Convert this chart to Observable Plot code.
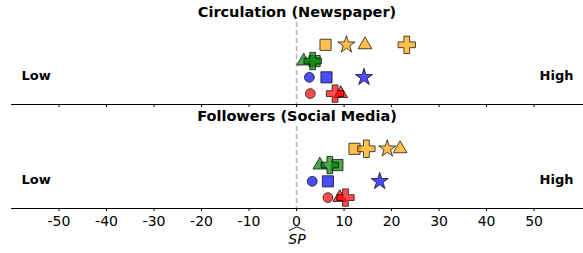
<!DOCTYPE html>
<html>
<head>
<meta charset="utf-8">
<script src="https://cdn.jsdelivr.net/npm/d3@7"></script>
<script src="https://cdn.jsdelivr.net/npm/@observablehq/plot@0.6"></script>
<style>
  html, body { margin: 0; padding: 0; background: white; }
  body { width: 583px; height: 253px; overflow: hidden; font-family: "DejaVu Sans", sans-serif; }
  .title { font-weight: bold; font-size: 14.5px; text-align: center; padding-left: 11px; color: black; white-space: nowrap; }
  svg { display: block; }
</style>
</head>
<body>
<div id="t1" class="title" style="height:22px; line-height:25px;"></div>
<div id="p1"></div>
<div id="t2" class="title" style="height:18px; line-height:16px;"></div>
<div id="p2"></div>
<div id="xl" style="height:25px; text-align:center; padding-left:11px; font-style:italic; font-size:14px; line-height:22px;"></div>
<script>
// ---- data ----
const panels = ["Circulation (Newspaper)", "Followers (Social Media)"];
const groups = ["orange", "green", "blue", "red"];          // rows, top to bottom
const shapes = ["circle", "square", "star", "triangle", "cross"];
const xTicks = [-50, -40, -30, -20, -10, 0, 10, 20, 30, 40, 50];
const sideLabels = ["Low", "High"];
const xLabel = "SP";

// [group, shape, SP value]
const circulation = [
  ["orange", "square", 6.1], ["orange", "star", 10.5], ["orange", "triangle", 14.4], ["orange", "cross", 23.2],
  ["green", "triangle", 1.5], ["green", "square", 3.8], ["green", "cross", 3.4],
  ["blue", "circle", 2.7], ["blue", "square", 6.3], ["blue", "star", 14.2],
  ["red", "circle", 2.9], ["red", "triangle", 9.3], ["red", "cross", 8.1]
];
const followers = [
  ["orange", "square", 12.2], ["orange", "cross", 14.7], ["orange", "star", 19.1], ["orange", "triangle", 21.8],
  ["green", "triangle", 4.9], ["green", "square", 8.6], ["green", "cross", 7.0],
  ["blue", "circle", 3.3], ["blue", "square", 6.6], ["blue", "star", 17.5],
  ["red", "circle", 6.6], ["red", "triangle", 9.1], ["red", "cross", 10.3]
];

// ---- styling ----
const groupColor = {orange: "#ffa500", green: "#008000", blue: "#0000ff", red: "#ff0000"};
const shapeR = {circle: 4.9, square: 6.3, star: 5.4, triangle: 5.1, cross: 7.3};
const rowOf = g => groups.length - groups.indexOf(g);   // red=1 ... orange=4
const yDomain = [0.33, 5.37];

function panel(rows, showLabels, height, marginBottom) {
  const data = rows.map(([group, shape, sp]) => ({group, shape, sp}));
  const dots = shapes.map(s => Plot.dot(data.filter(d => d.shape === s), {
    x: "sp", y: d => rowOf(d.group), symbol: () => s, r: shapeR[s],
    fill: d => groupColor[d.group], fillOpacity: 0.7,
    stroke: "#000", strokeOpacity: 0.7, strokeWidth: 1
  }));
  return Plot.plot({
    width: 583, height, marginLeft: 11, marginRight: 0, marginTop: 0, marginBottom,
    x: {domain: [-60, 60.4]},
    y: {domain: yDomain, axis: null},
    symbol: {type: "identity"},
    style: {fontFamily: "DejaVu Sans", fontSize: "14px", color: "black", background: "white", overflow: "visible"},
    marks: [
      Plot.ruleX([0], {stroke: "#b5b5b5", strokeDasharray: "5,3", strokeWidth: 1.5}),
      Plot.ruleY([yDomain[0]], {stroke: "black", strokeWidth: 1}),
      Plot.axisX(xTicks, {tickSize: 3, tickPadding: 5, fontSize: 14, label: null,
        tickFormat: showLabels ? (d => String(d)) : (() => "")}),
      Plot.text([sideLabels[0]], {frameAnchor: "left", dx: 10, dy: 12, textAnchor: "start", fontWeight: "bold", fontSize: 13}),
      Plot.text([sideLabels[1]], {frameAnchor: "right", dx: -10, dy: 12, textAnchor: "end", fontWeight: "bold", fontSize: 13}),
      ...dots
    ]
  });
}

document.getElementById("t1").textContent = panels[0];
document.getElementById("t2").textContent = panels[1];
document.getElementById("p1").append(panel(circulation, false, 86, 4));
document.getElementById("p2").append(panel(followers, true, 102, 20));
document.getElementById("xl").innerHTML =
  '<span style="position:relative; display:inline-block;">' + xLabel +
  '<svg style="position:absolute; left:1px; top:-2px; overflow:visible" width="16" height="5">' +
  '<path d="M0,4.5 L8,0.8 L16,4.5" fill="none" stroke="black" stroke-width="0.9"/></svg></span>';
</script>
</body>
</html>
